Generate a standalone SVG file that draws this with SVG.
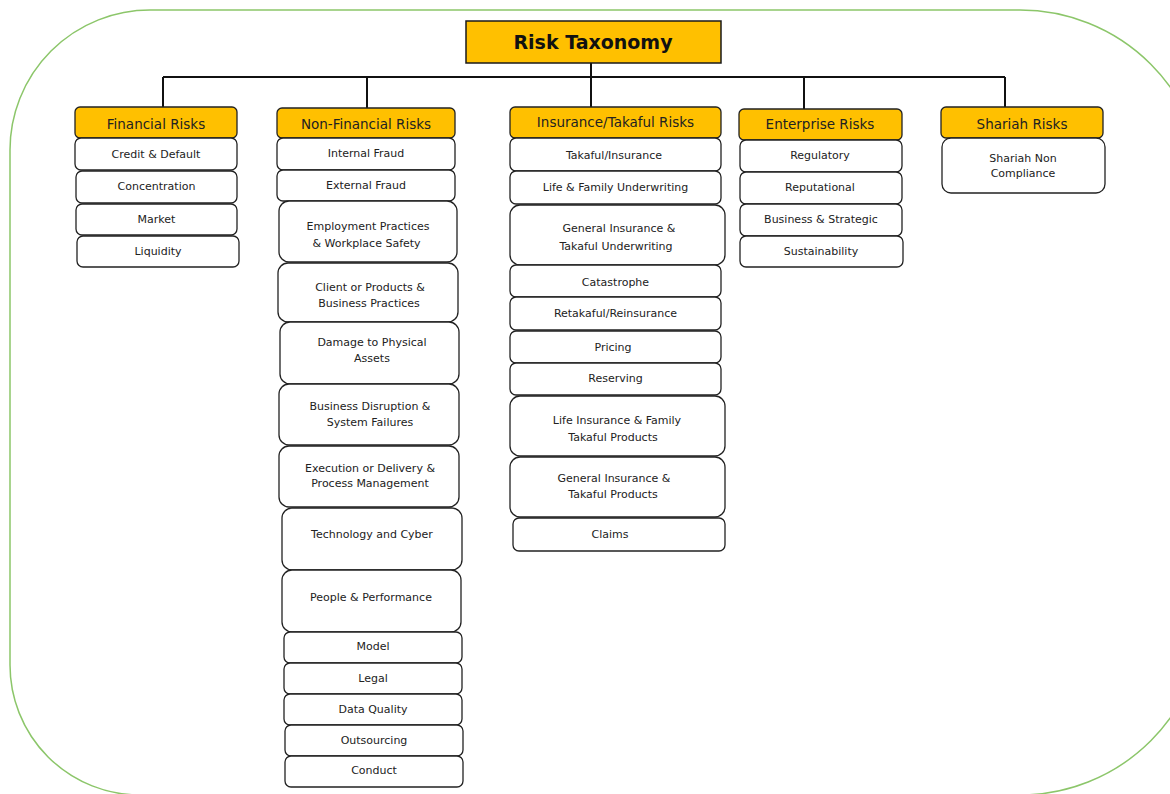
<svg xmlns="http://www.w3.org/2000/svg" width="1170" height="794" viewBox="0 0 1170 794">
<style>
.frame{fill:none;stroke:#8cc66a;stroke-width:1.5}
.root{fill:#FFC000;stroke:#1a1a1a;stroke-width:1.5}
.h{fill:#FFC000;stroke:#222;stroke-width:1.3}
.c{fill:#fff;stroke:#222;stroke-width:1.3}
.rt{font-family:"DejaVu Sans",sans-serif;font-weight:bold;font-size:19px;fill:#111;text-anchor:middle}
.ht{font-family:"DejaVu Sans",sans-serif;font-size:13.5px;fill:#222;text-anchor:middle}
.ct{font-family:"DejaVu Sans",sans-serif;font-size:11px;fill:#222;text-anchor:middle}
.conn{fill:none;stroke:#111;stroke-width:2}
</style>
<rect width="1170" height="794" fill="#fff"/>
<path class="frame" d="M150,10 H1020 A185,185 0 0 1 1205,195 V610 A185,185 0 0 1 1020,795 H140 A130,130 0 0 1 10,665 V150 A140,140 0 0 1 150,10 Z"/>

<g id="connectors">
<path class="conn" d="M591,63 V107"/>
<path class="conn" d="M163,77 H1005"/>
<path class="conn" d="M163,77 V107"/>
<path class="conn" d="M367,77 V108"/>
<path class="conn" d="M804,77 V109"/>
<path class="conn" d="M1005,77 V107"/>
</g>

<g id="root">
<rect class="root" x="466" y="21" width="255" height="42"/>
<text class="rt" x="593" y="49">Risk Taxonomy</text>
</g>

<g id="financial">
<rect class="h" x="75" y="107" width="162" height="31" rx="5"/>
<text class="ht" x="156" y="128.5">Financial Risks</text>
</g>
<g id="credit-default"><rect class="c" x="75" y="138" width="162" height="32" rx="6"/><text class="ct" x="156" y="157.5">Credit &amp; Default</text></g>
<g id="concentration"><rect class="c" x="76" y="171" width="161" height="32" rx="6"/><text class="ct" x="156.5" y="190">Concentration</text></g>
<g id="market"><rect class="c" x="76" y="204" width="161" height="31" rx="6"/><text class="ct" x="156.5" y="222.5">Market</text></g>
<g id="liquidity"><rect class="c" x="77" y="236" width="162" height="31" rx="6"/><text class="ct" x="158" y="254.5">Liquidity</text></g>

<g id="non-financial">
<rect class="h" x="277" y="108" width="178" height="30" rx="5"/>
<text class="ht" x="366" y="128.5">Non-Financial Risks</text>
</g>
<g id="internal-fraud"><rect class="c" x="277" y="138" width="178" height="32" rx="6"/><text class="ct" x="366" y="157">Internal Fraud</text></g>
<g id="external-fraud"><rect class="c" x="277" y="170" width="178" height="31" rx="6"/><text class="ct" x="366" y="188.5">External Fraud</text></g>
<g id="employment"><rect class="c" x="279" y="201" width="178" height="61" rx="10"/><text class="ct" x="368" y="230">Employment Practices</text><text class="ct" x="366.5" y="247">&amp; Workplace Safety</text></g>
<g id="client"><rect class="c" x="278" y="263" width="180" height="59" rx="10"/><text class="ct" x="370" y="290.7">Client or Products &amp;</text><text class="ct" x="369" y="307.3">Business Practices</text></g>
<g id="damage"><rect class="c" x="280" y="322" width="179" height="62" rx="10"/><text class="ct" x="372" y="345.7">Damage to Physical</text><text class="ct" x="372" y="362.3">Assets</text></g>
<g id="disruption"><rect class="c" x="279" y="384" width="180" height="61" rx="10"/><text class="ct" x="370" y="409.7">Business Disruption &amp;</text><text class="ct" x="370" y="425.7">System Failures</text></g>
<g id="execution"><rect class="c" x="279" y="446" width="180" height="61" rx="10"/><text class="ct" x="370" y="471.7">Execution or Delivery &amp;</text><text class="ct" x="370" y="487.3">Process Management</text></g>
<g id="technology"><rect class="c" x="282" y="508" width="180" height="62" rx="10"/><text class="ct" x="372" y="537.5">Technology and Cyber</text></g>
<g id="people"><rect class="c" x="282" y="570" width="179" height="62" rx="10"/><text class="ct" x="371" y="601">People &amp; Performance</text></g>
<g id="model"><rect class="c" x="284" y="632" width="178" height="31" rx="6"/><text class="ct" x="373" y="650">Model</text></g>
<g id="legal"><rect class="c" x="284" y="663" width="178" height="31" rx="6"/><text class="ct" x="373" y="681.5">Legal</text></g>
<g id="data-quality"><rect class="c" x="284" y="694" width="178" height="31" rx="6"/><text class="ct" x="373" y="712.5">Data Quality</text></g>
<g id="outsourcing"><rect class="c" x="285" y="725" width="178" height="31" rx="6"/><text class="ct" x="374" y="743.5">Outsourcing</text></g>
<g id="conduct"><rect class="c" x="285" y="756" width="178" height="31" rx="6"/><text class="ct" x="374" y="774">Conduct</text></g>

<g id="insurance">
<rect class="h" x="510" y="107" width="211" height="31" rx="5"/>
<text class="ht" x="615.5" y="127">Insurance/Takaful Risks</text>
</g>
<g id="takaful-insurance"><rect class="c" x="510" y="138" width="211" height="33" rx="6"/><text class="ct" x="614" y="159">Takaful/Insurance</text></g>
<g id="life-family-uw"><rect class="c" x="510" y="171" width="211" height="33" rx="6"/><text class="ct" x="615.5" y="191">Life &amp; Family Underwriting</text></g>
<g id="general-uw"><rect class="c" x="510" y="205" width="215" height="60" rx="10"/><text class="ct" x="619" y="232">General Insurance &amp;</text><text class="ct" x="616" y="249.5">Takaful Underwriting</text></g>
<g id="catastrophe"><rect class="c" x="510" y="265" width="211" height="32" rx="6"/><text class="ct" x="615.5" y="285.5">Catastrophe</text></g>
<g id="retakaful"><rect class="c" x="510" y="297" width="211" height="33" rx="6"/><text class="ct" x="615.5" y="316.5">Retakaful/Reinsurance</text></g>
<g id="pricing"><rect class="c" x="510" y="331" width="211" height="32" rx="6"/><text class="ct" x="613" y="350.5">Pricing</text></g>
<g id="reserving"><rect class="c" x="510" y="363" width="211" height="32" rx="6"/><text class="ct" x="615.5" y="382">Reserving</text></g>
<g id="life-products"><rect class="c" x="510" y="396" width="215" height="60" rx="10"/><text class="ct" x="617" y="424">Life Insurance &amp; Family</text><text class="ct" x="613" y="440.5">Takaful Products</text></g>
<g id="general-products"><rect class="c" x="510" y="457" width="215" height="60" rx="10"/><text class="ct" x="614" y="482">General Insurance &amp;</text><text class="ct" x="613" y="497.5">Takaful Products</text></g>
<g id="claims"><rect class="c" x="513" y="518" width="212" height="33" rx="6"/><text class="ct" x="610" y="538">Claims</text></g>

<g id="enterprise">
<rect class="h" x="739" y="109" width="163" height="31" rx="5"/>
<text class="ht" x="820" y="129">Enterprise Risks</text>
</g>
<g id="regulatory"><rect class="c" x="740" y="140" width="162" height="32" rx="6"/><text class="ct" x="820" y="159">Regulatory</text></g>
<g id="reputational"><rect class="c" x="740" y="172" width="162" height="32" rx="6"/><text class="ct" x="820" y="191">Reputational</text></g>
<g id="business-strategic"><rect class="c" x="740" y="204" width="162" height="32" rx="6"/><text class="ct" x="821" y="223">Business &amp; Strategic</text></g>
<g id="sustainability"><rect class="c" x="740" y="236" width="163" height="31" rx="6"/><text class="ct" x="821" y="254.5">Sustainability</text></g>

<g id="shariah">
<rect class="h" x="941" y="107" width="162" height="31" rx="5"/>
<text class="ht" x="1022" y="128.5">Shariah Risks</text>
</g>
<g id="shariah-non-compliance"><rect class="c" x="942" y="138" width="163" height="55" rx="9"/><text class="ct" x="1023" y="161.7">Shariah Non</text><text class="ct" x="1023" y="177.3">Compliance</text></g>
</svg>
